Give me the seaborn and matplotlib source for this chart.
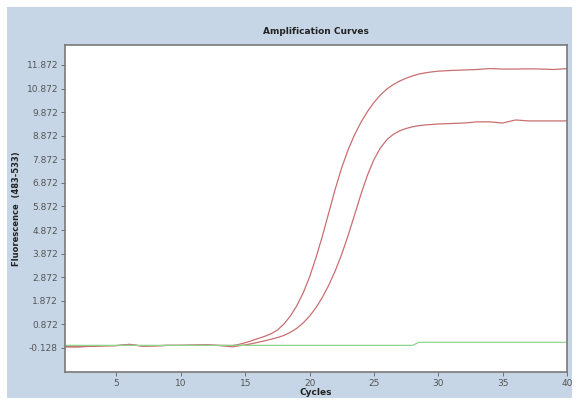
import numpy as np
import pandas as pd
import matplotlib
matplotlib.use("Agg")
import matplotlib.pyplot as plt
import seaborn as sns
from matplotlib.patches import Rectangle

cycles = ([1, 2, 3, 4, 5, 6, 7, 8, 9, 10, 11, 12, 13] +
          [14, 14.5, 15, 15.5, 16, 16.5, 17, 17.5, 18, 18.5, 19, 19.5, 20, 20.5,
           21, 21.5, 22, 22.5, 23, 23.5, 24, 24.5, 25, 25.5, 26, 26.5, 27, 27.5,
           28, 28.5, 29, 29.5, 30] +
          [31, 32, 33, 34, 35, 36, 37, 38, 39, 40])

sample_a = ([-0.08, -0.08, -0.06, -0.04, -0.03, 0.02, -0.05, -0.04, -0.02, -0.02,
             -0.01, 0.00, -0.02] +
            [-0.03, 0.02, 0.09, 0.18, 0.27, 0.36, 0.47, 0.63, 0.88, 1.22, 1.65, 2.20,
             2.88, 3.70, 4.62, 5.62, 6.62, 7.52, 8.28, 8.92, 9.45, 9.90, 10.28, 10.60,
             10.85, 11.04, 11.19, 11.31, 11.41, 11.49, 11.54, 11.58, 11.61] +
            [11.64, 11.66, 11.68, 11.72, 11.70, 11.70, 11.71, 11.70, 11.68, 11.72])

sample_b = ([-0.08, -0.08, -0.06, -0.04, -0.03, 0.02, -0.05, -0.04, -0.02, -0.02,
             -0.01, 0.00, -0.03] +
            [-0.08, -0.04, 0.00, 0.05, 0.11, 0.17, 0.24, 0.31, 0.40, 0.53, 0.70, 0.93,
             1.22, 1.58, 2.02, 2.54, 3.15, 3.85, 4.65, 5.52, 6.40, 7.20, 7.86, 8.35,
             8.70, 8.93, 9.08, 9.18, 9.25, 9.30, 9.33, 9.35, 9.37] +
            [9.39, 9.41, 9.46, 9.46, 9.41, 9.54, 9.50, 9.50, 9.50, 9.50])

negative = [-0.02] * 13 + [-0.02] * 29 + [0.11] * 4 + [0.11] * 10

y_ticks = [-0.128, 0.872, 1.872, 2.872, 3.872, 4.872, 5.872, 6.872, 7.872, 8.872, 9.872, 10.872, 11.872]
y_tick_labels = ["-0.128", "0.872", "1.872", "2.872", "3.872", "4.872", "5.872",
                 "6.872", "7.872", "8.872", "9.872", "10.872", "11.872"]
x_ticks = [5, 10, 15, 20, 25, 30, 35, 40]

n = len(cycles)
df = pd.DataFrame({
    "Cycles": cycles * 3,
    "Fluorescence": sample_a + sample_b + negative,
    "Sample": ["A"] * n + ["B"] * n + ["Neg"] * n,
})

sns.set_style("white")
fig = plt.figure(figsize=(5.77, 4.03), dpi=100)
fig.patch.set_facecolor("white")
fig.patches.append(Rectangle((7 / 577, 5 / 403), 565 / 577, 391 / 403,
                             transform=fig.transFigure, facecolor="#c6d6e6",
                             edgecolor="none", zorder=-10))

ax = fig.add_axes([65 / 577, 1 - 372 / 403, 502 / 577, 327 / 403])
ax.set_zorder(1)
ax.set_facecolor("white")

palette = {"A": "#c96f6f", "B": "#c96f6f", "Neg": "#8ed68e"}
sns.lineplot(data=df, x="Cycles", y="Fluorescence", hue="Sample", palette=palette,
             linewidth=0.9, legend=False, ax=ax)

ax.set_xlim(1, 40)
ax.set_ylim(-1.15, 12.72)
ax.set_xticks(x_ticks)
ax.set_xticklabels([str(t) for t in x_ticks])
ax.set_yticks(y_ticks)
ax.set_yticklabels(y_tick_labels)
ax.tick_params(axis="both", labelsize=6.5, colors="#606060", length=3, width=0.6,
               direction="out", pad=2, left=True, bottom=True)
for lab in ax.get_xticklabels() + ax.get_yticklabels():
    lab.set_color("#555555")

for s in ax.spines.values():
    s.set_color("#7a7a7a")
    s.set_linewidth(1.2)

ax.set_xlabel("Cycles", fontsize=6.5, fontweight="bold", color="#222222", labelpad=0)
ax.set_ylabel("Fluorescence  (483-533)", fontsize=6, fontweight="bold",
              color="#222222", labelpad=4)
ax.set_title("Amplification Curves", fontsize=6.5, fontweight="bold",
             color="#222222", pad=8)

fig.savefig("out.png", dpi=100, facecolor=fig.get_facecolor())
